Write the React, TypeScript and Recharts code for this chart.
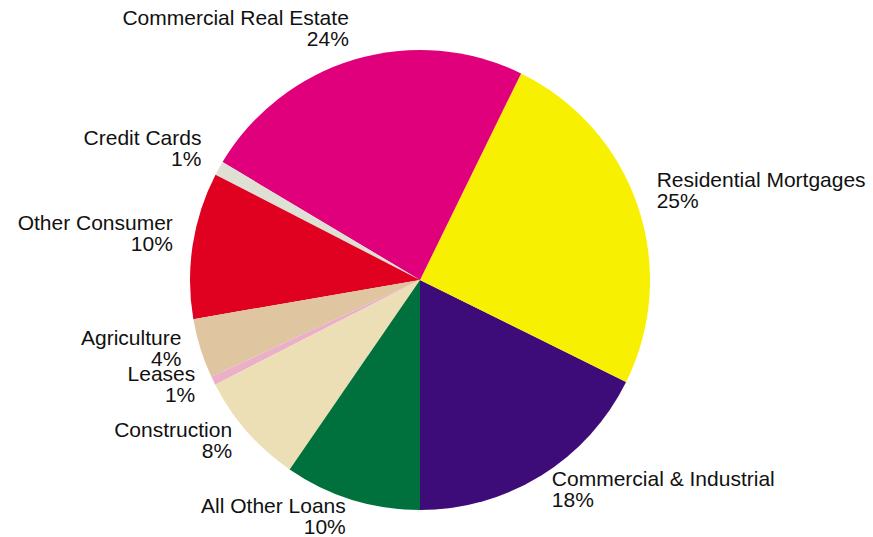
import { PieChart, Pie, Cell } from "recharts";

const categories = [
  "Commercial & Industrial",
  "Residential Mortgages",
  "Commercial Real Estate",
  "Credit Cards",
  "Other Consumer",
  "Agriculture",
  "Leases",
  "Construction",
  "All Other Loans",
];

const shares = [17.7, 25.1, 23.7, 1.0, 10.3, 4.2, 0.6, 7.9, 9.6];

const COLORS = [
  "#3d0c78",
  "#f7f000",
  "#e0007c",
  "#dfe0d4",
  "#e0001f",
  "#dfc5a0",
  "#ebb0c8",
  "#eddfb5",
  "#00703c",
];

const data = categories.map((name, i) => ({ name, value: shares[i] }));

const RADIAN = Math.PI / 180;

// two-line label just past the rim, right-aligned on the left half
const renderLabel = (props: any) => {
  const { cx, cy, midAngle, outerRadius, percent, name } = props;
  const x = cx + (outerRadius + 20) * Math.cos(-midAngle * RADIAN);
  const y = cy + (outerRadius + 25) * Math.sin(-midAngle * RADIAN);
  const anchor = x > cx ? "start" : "end";
  return (
    <text
      x={x}
      y={y}
      textAnchor={anchor}
      fill="#111"
      fontSize={21}
      fontFamily="'Liberation Sans', Arial, sans-serif"
    >
      <tspan x={x} y={y - 11}>
        {name}
      </tspan>
      <tspan x={x} y={y + 10}>
        {Math.round(percent * 100)}%
      </tspan>
    </text>
  );
};

export default function App() {
  return (
    <div style={{ position: "absolute", left: 0, top: 0, background: "#fff" }}>
      <PieChart
        width={873}
        height={537}
        margin={{ top: 0, right: 0, bottom: 0, left: 0 }}
      >
        <Pie
          data={data}
          dataKey="value"
          nameKey="name"
          cx={420}
          cy={280}
          outerRadius={230}
          startAngle={-90}
          endAngle={270}
          stroke="none"
          label={renderLabel}
          labelLine={false}
          isAnimationActive={false}
        >
          {data.map((_, i) => (
            <Cell key={i} fill={COLORS[i]} />
          ))}
        </Pie>
      </PieChart>
    </div>
  );
}
